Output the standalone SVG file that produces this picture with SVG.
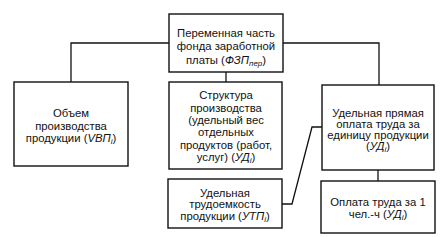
<svg xmlns="http://www.w3.org/2000/svg" width="445" height="237" viewBox="0 0 445 237">
<style>
.box{fill:#fff;stroke:#111;stroke-width:1.4}
.ln{fill:none;stroke:#111;stroke-width:1.3}
text{font-family:"Liberation Sans",Arial,sans-serif;font-size:11.3px;fill:#111;text-anchor:middle}
.it{font-style:italic}
.sub{font-size:8px;font-style:italic}
</style>
<rect width="445" height="237" fill="#fff"/>
<g id="connectors">
<path class="ln" d="M169 43H71V82"/>
<path class="ln" d="M283 43H379V85"/>
<path class="ln" d="M226 72V82"/>
<path class="ln" d="M378 170V181"/>
<path class="ln" d="M282 204H292L312 127H322"/>
</g>
<g id="top">
<rect class="box" x="169" y="14" width="114" height="58"/>
<text x="226" y="37">Переменная часть</text>
<text x="226" y="50">фонда заработной</text>
<text x="226" y="64">платы (<tspan class="it">ФЗП</tspan><tspan class="sub" dy="2">пер</tspan><tspan dy="-2">)</tspan></text>
</g>
<g id="volume">
<rect class="box" x="14" y="82" width="114" height="84"/>
<text x="71" y="117">Объем</text>
<text x="71" y="130">производства</text>
<text x="71" y="142">продукции (<tspan class="it">VBП</tspan><tspan class="sub" dy="2">i</tspan><tspan dy="-2">)</tspan></text>
</g>
<g id="structure">
<rect class="box" x="169" y="82" width="113" height="87"/>
<text x="226" y="99">Структура</text>
<text x="226" y="112">производства</text>
<text x="226" y="124">(удельный вес</text>
<text x="226" y="136">отдельных</text>
<text x="226" y="149">продуктов (работ,</text>
<text x="226" y="161">услуг) (<tspan class="it">УД</tspan><tspan class="sub" dy="2">i</tspan><tspan dy="-2">)</tspan></text>
</g>
<g id="unitpay">
<rect class="box" x="322" y="85" width="112" height="85"/>
<text x="378" y="117">Удельная прямая</text>
<text x="378" y="128">оплата труда за</text>
<text x="378" y="139">единицу продукции</text>
<text x="378" y="150">(<tspan class="it">УД</tspan><tspan class="sub" dy="2">i</tspan><tspan dy="-2">)</tspan></text>
</g>
<g id="labor">
<rect class="box" x="168" y="179" width="114" height="49"/>
<text x="225" y="197">Удельная</text>
<text x="225" y="208">трудоемкость</text>
<text x="225" y="220">продукции (<tspan class="it">УТП</tspan><tspan class="sub" dy="2">i</tspan><tspan dy="-2">)</tspan></text>
</g>
<g id="hourpay">
<rect class="box" x="321" y="181" width="114" height="52"/>
<text x="378" y="206">Оплата труда за 1</text>
<text x="378" y="218">чел.-ч (<tspan class="it">УД</tspan><tspan class="sub" dy="2">i</tspan><tspan dy="-2">)</tspan></text>
</g>
</svg>
